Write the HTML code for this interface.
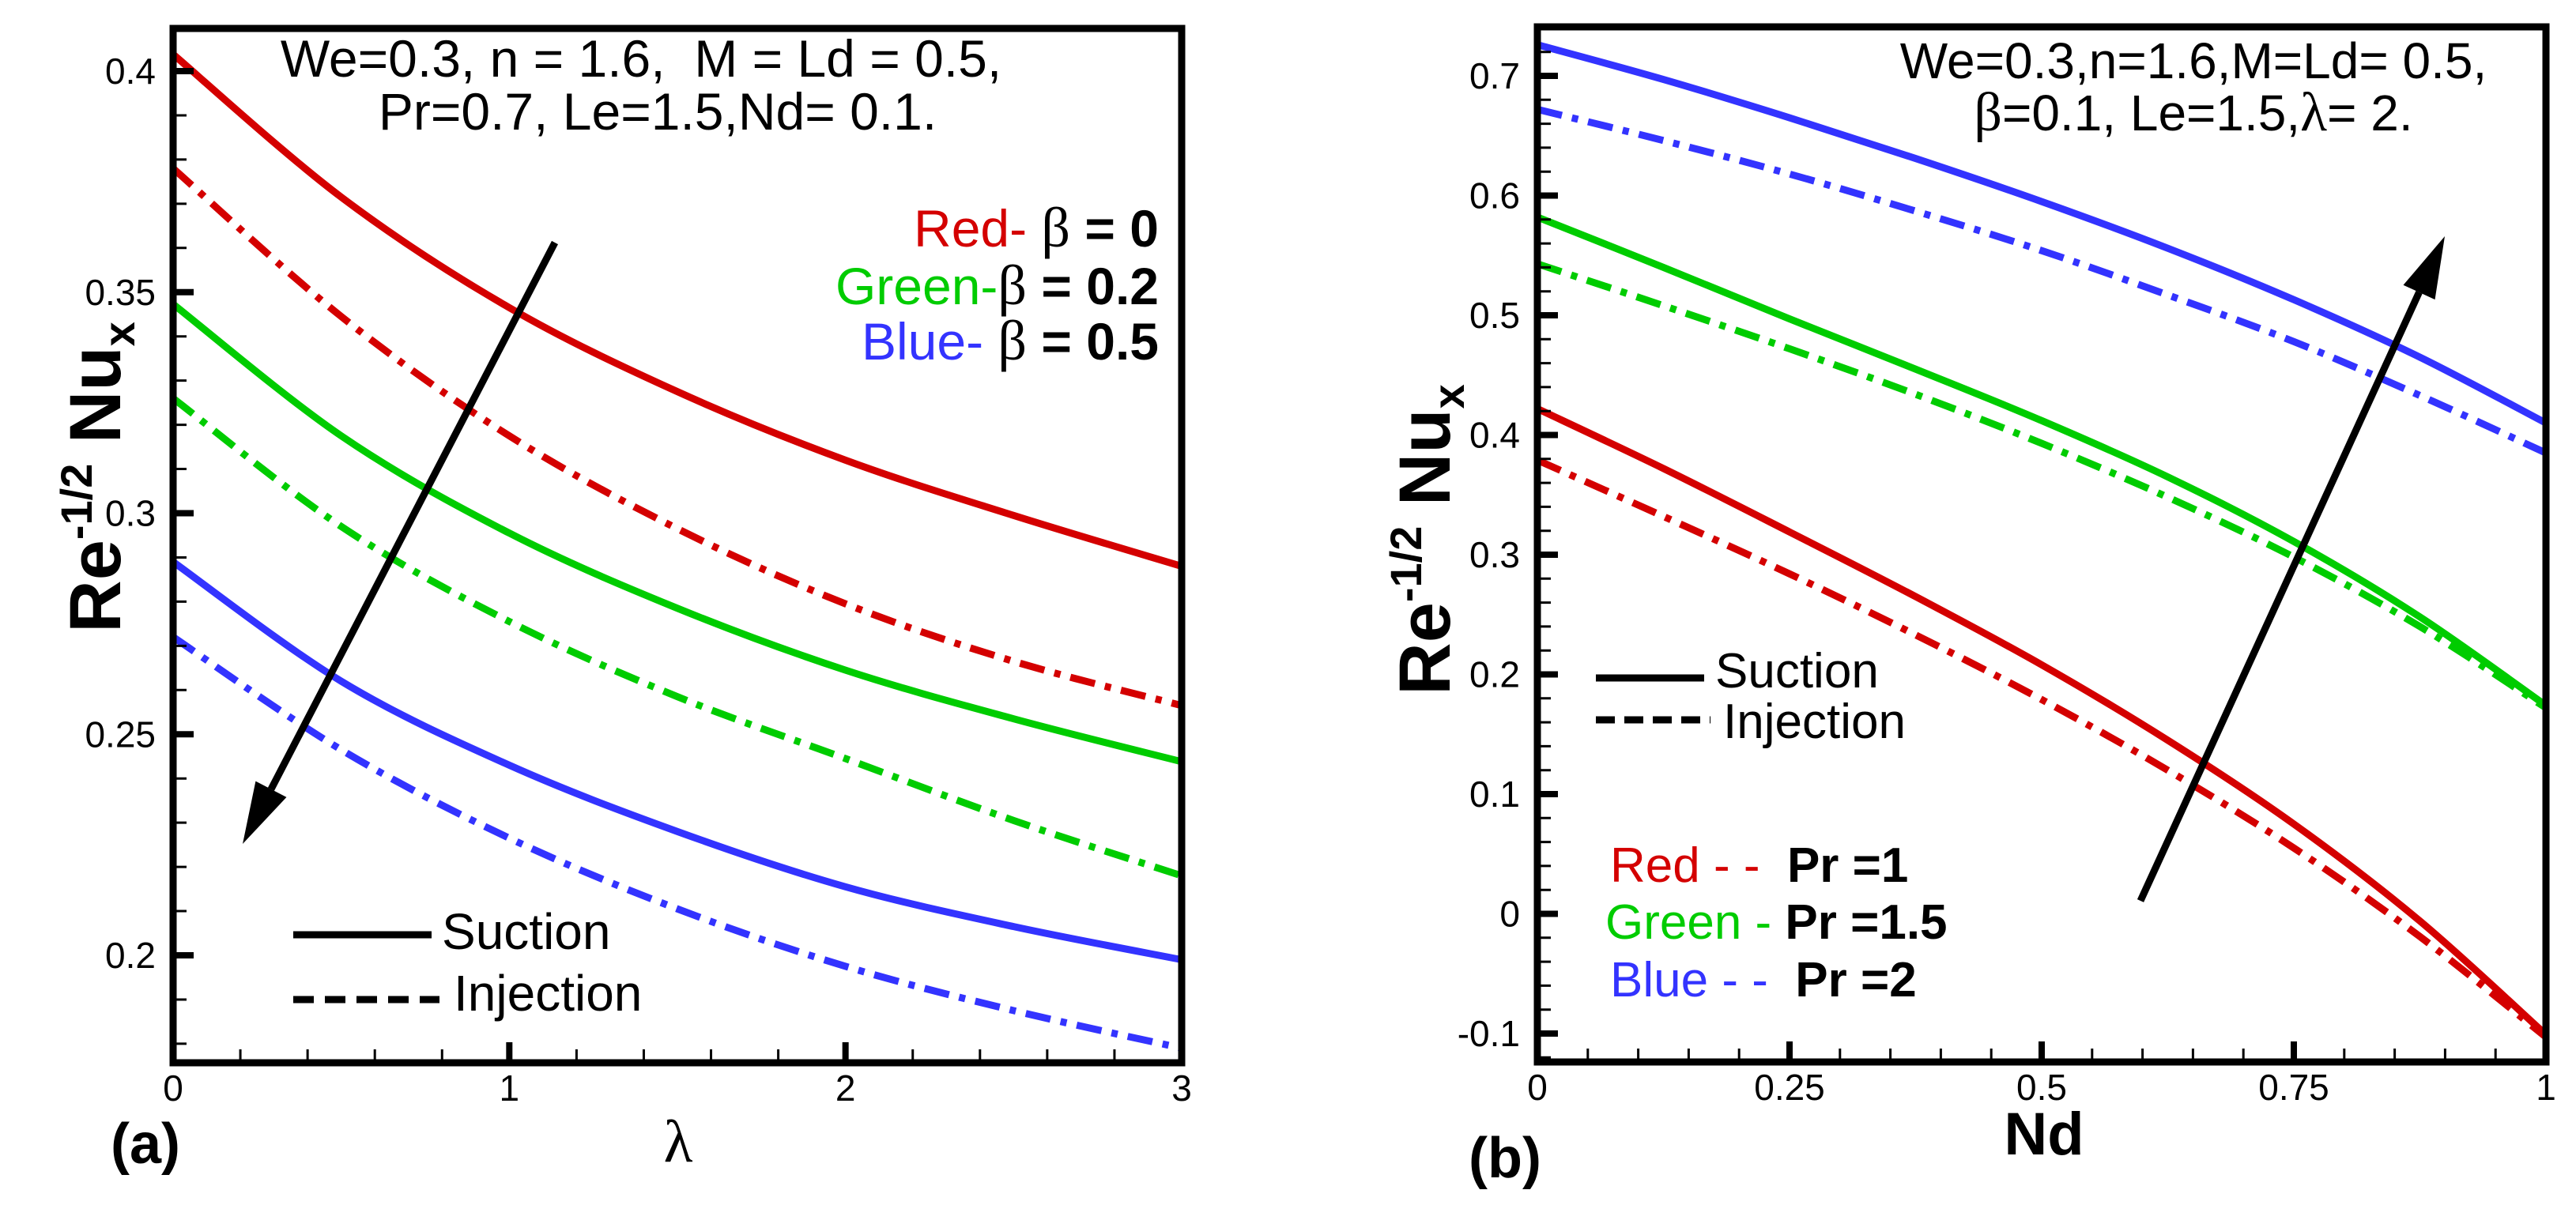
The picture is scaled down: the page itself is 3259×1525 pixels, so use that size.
<!DOCTYPE html>
<html><head><meta charset="utf-8"><style>
html,body{margin:0;padding:0;background:#fff;}
svg{display:block;font-family:"Liberation Sans",Arial,sans-serif;}
</style></head><body>
<svg id="fig" width="3259" height="1525" viewBox="0 0 3259 1525" xmlns="http://www.w3.org/2000/svg">
<g id="pa"></g>
<g id="pb"></g>
</svg>
<script>
// ---- Panel (a) data ----
const lamX = [0, 0.5, 1, 1.5, 2, 2.5, 3];
const aRedSuction   = [0.4038, 0.3715, 0.3465, 0.3275, 0.312, 0.2995, 0.288];
const aRedInjection = [0.378, 0.3445, 0.3175, 0.2965, 0.2795, 0.2665, 0.2565];
const aGreenSuction   = [0.3473, 0.3175, 0.2955, 0.2785, 0.2645, 0.2535, 0.2438];
const aGreenInjection = [0.326, 0.297, 0.2755, 0.2585, 0.2445, 0.2305, 0.218];
const aBlueSuction   = [0.289, 0.262, 0.243, 0.228, 0.2155, 0.2065, 0.199];
const aBlueInjection = [0.272, 0.2465, 0.2265, 0.2105, 0.1975, 0.1875, 0.179];
const aXTicks = [0, 1, 2, 3];
const aYTicks = [0.2, 0.25, 0.3, 0.35, 0.4];
// ---- Panel (b) data ----
const ndX = [0, 0.125, 0.25, 0.375, 0.5, 0.625, 0.75, 0.875, 1];
const bBlueSuction   = [0.726, 0.697, 0.665, 0.631, 0.595, 0.556, 0.513, 0.465, 0.41];
const bBlueInjection = [0.672, 0.646, 0.618, 0.587, 0.554, 0.517, 0.478, 0.433, 0.385];
const bGreenSuction   = [0.582, 0.540, 0.497, 0.455, 0.412, 0.365, 0.311, 0.248, 0.174];
const bGreenInjection = [0.543, 0.508, 0.472, 0.434, 0.393, 0.348, 0.298, 0.240, 0.172];
const bRedSuction   = [0.422, 0.372, 0.319, 0.265, 0.208, 0.145, 0.075, -0.006, -0.101];
const bRedInjection = [0.379, 0.332, 0.284, 0.233, 0.179, 0.120, 0.055, -0.019, -0.103];
const bXTicks = [0, 0.25, 0.5, 0.75, 1];
const bXTickLabels = ["0", "0.25", "0.5", "0.75", "1"];
const bYTicks = [-0.1, 0, 0.1, 0.2, 0.3, 0.4, 0.5, 0.6, 0.7];

const NS = "http://www.w3.org/2000/svg";
const RED = "#d40000", GREEN = "#00cc00", BLUE = "#3333ff";
function mk(parent, tag, attrs, text) {
  const e = document.createElementNS(NS, tag);
  for (const k in attrs) e.setAttribute(k, attrs[k]);
  if (text !== undefined) e.textContent = text;
  parent.appendChild(e);
  return e;
}
function lin(d0, d1, r0, r1) { return v => r0 + (v - d0) * (r1 - r0) / (d1 - d0); }
function smoothPath(xs, ys, sx, sy) {
  const p = xs.map((x, i) => [sx(x), sy(ys[i])]);
  let d = "M" + p[0][0] + "," + p[0][1];
  for (let i = 0; i < p.length - 1; i++) {
    const p0 = p[Math.max(0, i - 1)], p1 = p[i], p2 = p[i + 1], p3 = p[Math.min(p.length - 1, i + 2)];
    const c1 = [p1[0] + (p2[0] - p0[0]) / 6, p1[1] + (p2[1] - p0[1]) / 6];
    const c2 = [p2[0] - (p3[0] - p1[0]) / 6, p2[1] - (p3[1] - p1[1]) / 6];
    d += " C" + c1 + " " + c2 + " " + p2;
  }
  return d;
}
function series(g, xs, ys, sx, sy, color, dashed, name) {
  const a = {d: smoothPath(xs, ys, sx, sy), fill: "none", stroke: color, "stroke-width": 9};
  if (dashed) a["stroke-dasharray"] = "32 13 8 13";
  const e = mk(g, "path", a);
  
  
}
function arrow(g, x1, y1, x2, y2, name) {
  const ang = Math.atan2(y2 - y1, x2 - x1), L = 78, W = 22;
  const bx = x2 - L * Math.cos(ang), by = y2 - L * Math.sin(ang);
  const ln = mk(g, "line", {x1: x1, y1: y1, x2: bx, y2: by, stroke: "#000", "stroke-width": 9});
  
  
  const nx = -Math.sin(ang) * W, ny = Math.cos(ang) * W;
  const hd = mk(g, "polygon", {points: `${x2},${y2} ${bx + nx},${by + ny} ${bx - nx},${by - ny}`, fill: "#000"});
  
  
}
function axes(g, L, R, T, B, sx, sy, xMaj, xLab, xMinStep, xMin, xMax, yMaj, yLab, yMinStep, yMin, yMax) {
  for (let v = xMin; v <= xMax + 1e-9; v += xMinStep) {
    const x = sx(v);
    const t = mk(g, "line", {x1: x, y1: B, x2: x, y2: B - 17, stroke: "#000", "stroke-width": 3});
    
    
  }
  for (let v = Math.ceil(yMin / yMinStep - 1e-9) * yMinStep; v <= yMax + 1e-9; v += yMinStep) {
    const y = sy(v);
    const t = mk(g, "line", {x1: L, y1: y, x2: L + 17, y2: y, stroke: "#000", "stroke-width": 3});
    
    
  }
  xMaj.forEach((v, i) => {
    const x = sx(v);
    const t = mk(g, "line", {x1: x, y1: B, x2: x, y2: B - 26, stroke: "#000", "stroke-width": 8});
    
    
    const tl = mk(g, "text", {x: x, y: B + 48, "font-size": 46, "text-anchor": "middle"}, xLab[i]);
    
    
  });
  yMaj.forEach((v, i) => {
    const y = sy(v);
    const t = mk(g, "line", {x1: L, y1: y, x2: L + 26, y2: y, stroke: "#000", "stroke-width": 8});
    
    
    const tl = mk(g, "text", {x: L - 22, y: y + 16, "font-size": 46, "text-anchor": "end"}, yLab[i]);
    
    
  });
  const fr = mk(g, "rect", {x: L, y: T, width: R - L, height: B - T, fill: "none", stroke: "#000", "stroke-width": 9});
  
  
}
function txt(g, x, y, size, anchor, html, name) {
  const t = mk(g, "text", {x: x, y: y, "font-size": size, "text-anchor": anchor});
  t.innerHTML = html;
  
  
  return t;
}
const YTITLE = '<tspan font-weight="bold">Re</tspan><tspan font-weight="bold" font-size="56" dy="-36">-1/2</tspan><tspan font-weight="bold" dy="36"> Nu</tspan><tspan font-weight="bold" font-size="56" dy="18">x</tspan>';

// ---------- Panel A ----------
(function () {
  const g = document.getElementById("pa");
  const L = 219, R = 1495, T = 36, B = 1345;
  const sx = lin(0, 3, L, R), sy = lin(0.4, 0.2, 90, 1209);
  const defs = mk(g, "defs", {});
  const cp = mk(defs, "clipPath", {id: "ca"});
  mk(cp, "rect", {x: L, y: T, width: R - L, height: B - T});
  const cg = mk(g, "g", {"clip-path": "url(#ca)"});
  series(cg, lamX, aRedSuction, sx, sy, RED, false, "red-suction-line");
  series(cg, lamX, aRedInjection, sx, sy, RED, true, "red-injection-line");
  series(cg, lamX, aGreenSuction, sx, sy, GREEN, false, "green-suction-line");
  series(cg, lamX, aGreenInjection, sx, sy, GREEN, true, "green-injection-line");
  series(cg, lamX, aBlueSuction, sx, sy, BLUE, false, "blue-suction-line");
  series(cg, lamX, aBlueInjection, sx, sy, BLUE, true, "blue-injection-line");
  axes(g, L, R, T, B, sx, sy, aXTicks, ["0", "1", "2", "3"], 0.2, 0, 3,
       aYTicks, ["0.2", "0.25", "0.3", "0.35", "0.4"], 0.01, 0.176, 0.409);
  arrow(g, 702, 307, 307, 1068, "trend-arrow-a");
  txt(g, 811, 97, 66, "middle", "We=0.3, n = 1.6,&#160; M = Ld = 0.5,", "params-line-1");
  txt(g, 832, 164, 66, "middle", "Pr=0.7, Le=1.5,Nd= 0.1.", "params-line-2");
  txt(g, 1466, 312, 66, "end", '<tspan fill="#d40000">Red- </tspan><tspan font-family="Liberation Serif" font-size="72">β</tspan><tspan font-weight="bold"> = 0</tspan>', "legend-beta-0");
  txt(g, 1466, 385, 66, "end", '<tspan fill="#00cc00">Green-</tspan><tspan font-family="Liberation Serif" font-size="72">β</tspan><tspan font-weight="bold"> = 0.2</tspan>', "legend-beta-0.2");
  txt(g, 1466, 455, 66, "end", '<tspan fill="#3333ff">Blue- </tspan><tspan font-family="Liberation Serif" font-size="72">β</tspan><tspan font-weight="bold"> = 0.5</tspan>', "legend-beta-0.5");
  let l = mk(g, "line", {x1: 371, y1: 1183, x2: 546, y2: 1183, stroke: "#000", "stroke-width": 9});
   
  txt(g, 559, 1201, 64, "start", "Suction", "legend-suction-label");
  l = mk(g, "line", {x1: 371, y1: 1265, x2: 556, y2: 1265, stroke: "#000", "stroke-width": 9, "stroke-dasharray": "26 14"});
   
  txt(g, 574, 1279, 64, "start", "Injection", "legend-injection-label");
  txt(g, 858, 1470, 76, "middle", '<tspan font-family="Liberation Serif">λ</tspan>', "x-axis-title");
  txt(g, 140, 1472, 72, "start", '<tspan font-weight="bold">(a)</tspan>', "panel-label-a");
  const yt = txt(g, 0, 0, 92, "middle", YTITLE, "y-axis-title");
  yt.setAttribute("transform", "translate(152,604) rotate(-90)");
})();

// ---------- Panel B ----------
(function () {
  const g = document.getElementById("pb");
  const L = 1945, R = 3221, T = 34, B = 1344;
  const sx = lin(0, 1, L, R), sy = lin(0.7, -0.1, 96, 1308);
  const defs = mk(g, "defs", {});
  const cp = mk(defs, "clipPath", {id: "cb"});
  mk(cp, "rect", {x: L, y: T, width: R - L, height: B - T});
  const cg = mk(g, "g", {"clip-path": "url(#cb)"});
  series(cg, ndX, bBlueSuction, sx, sy, BLUE, false, "blue-suction-line");
  series(cg, ndX, bBlueInjection, sx, sy, BLUE, true, "blue-injection-line");
  series(cg, ndX, bGreenSuction, sx, sy, GREEN, false, "green-suction-line");
  series(cg, ndX, bGreenInjection, sx, sy, GREEN, true, "green-injection-line");
  series(cg, ndX, bRedSuction, sx, sy, RED, false, "red-suction-line");
  series(cg, ndX, bRedInjection, sx, sy, RED, true, "red-injection-line");
  axes(g, L, R, T, B, sx, sy, bXTicks, bXTickLabels, 0.05, 0, 1,
       bYTicks, ["-0.1", "0", "0.1", "0.2", "0.3", "0.4", "0.5", "0.6", "0.7"], 0.02, -0.12, 0.74);
  arrow(g, 2708, 1140, 3093, 299, "trend-arrow-b");
  txt(g, 2775, 99, 64, "middle", "We=0.3,n=1.6,M=Ld= 0.5,", "params-line-1");
  txt(g, 2775, 165, 64, "middle", '<tspan font-family="Liberation Serif" font-size="70">β</tspan>=0.1, Le=1.5,<tspan font-family="Liberation Serif" font-size="70">λ</tspan>= 2.', "params-line-2");
  let l = mk(g, "line", {x1: 2019, y1: 858, x2: 2156, y2: 858, stroke: "#000", "stroke-width": 9});
   
  txt(g, 2170, 870, 62, "start", "Suction", "legend-suction-label");
  l = mk(g, "line", {x1: 2019, y1: 911, x2: 2164, y2: 911, stroke: "#000", "stroke-width": 9, "stroke-dasharray": "24 12"});
   
  txt(g, 2180, 934, 62, "start", "Injection", "legend-injection-label");
  txt(g, 2037, 1116, 62, "start", '<tspan fill="#d40000">Red - -&#160; </tspan><tspan font-weight="bold">Pr =1</tspan>', "legend-pr-1");
  txt(g, 2031, 1188, 62, "start", '<tspan fill="#00cc00">Green - </tspan><tspan font-weight="bold">Pr =1.5</tspan>', "legend-pr-1.5");
  txt(g, 2037, 1261, 62, "start", '<tspan fill="#3333ff">Blue - -&#160; </tspan><tspan font-weight="bold">Pr =2</tspan>', "legend-pr-2");
  txt(g, 2586, 1461, 76, "middle", '<tspan font-weight="bold">Nd</tspan>', "x-axis-title");
  txt(g, 1858, 1490, 72, "start", '<tspan font-weight="bold">(b)</tspan>', "panel-label-b");
  const yt = txt(g, 0, 0, 92, "middle", YTITLE, "y-axis-title");
  yt.setAttribute("transform", "translate(1834,683) rotate(-90)");
})();
</script>
</body></html>
